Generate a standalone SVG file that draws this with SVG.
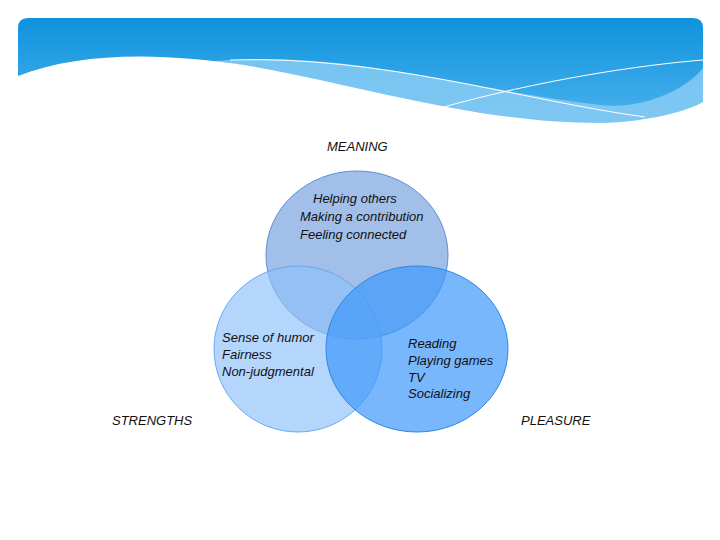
<svg xmlns="http://www.w3.org/2000/svg" width="720" height="540" viewBox="0 0 720 540">
<defs>
<linearGradient id="hg" x1="0" y1="0" x2="0" y2="1"><stop offset="0" stop-color="#0f93dd"/><stop offset="1" stop-color="#4db3ee"/></linearGradient>
<clipPath id="hc"><path d="M18,28 Q18,18 28,18 H693 Q703,18 703,28 V125 H18 Z"/></clipPath>
<style>text{font-family:"Liberation Sans",Arial,sans-serif;font-size:13px;font-style:italic;fill:#111}</style>
</defs>
<g id="header" clip-path="url(#hc)">
<rect x="18" y="18" width="685" height="110" fill="url(#hg)"/>
<path d="M215,61 C350,50 470,90 600,105 C650,110 690,85 703,68 V130 H215 Z" fill="#8ccdf4" opacity="0.8"/>
<path d="M440,108 C540,80 640,65 703,60" fill="none" stroke="#fff" stroke-width="1"/>
<path d="M230,60 C380,55 520,100 645,117" fill="none" stroke="#fff" stroke-width="1"/>
<path d="M18,76 C80,52 160,52 250,66 C380,90 480,123 600,123 C650,122 690,110 703,102 V140 H18 Z" fill="#fff"/>
</g>
<g id="meaning"><ellipse cx="357" cy="255" rx="91" ry="84" fill="#7ba4e0" fill-opacity="0.7" stroke="#5b8fd6"/></g>
<g id="strengths"><ellipse cx="298" cy="349" rx="84" ry="83" fill="#8dc0fa" fill-opacity="0.65" stroke="#6aa8ef"/></g>
<g id="pleasure"><ellipse cx="417" cy="349" rx="91" ry="83" fill="#3f98fa" fill-opacity="0.7" stroke="#2f86e6"/></g>
<g id="labels">
<text x="327" y="151">MEANING</text>
<text x="313" y="203">Helping others</text>
<text x="300" y="221">Making a contribution</text>
<text x="300" y="239">Feeling connected</text>
<text x="222" y="342">Sense of humor</text>
<text x="222" y="359">Fairness</text>
<text x="222" y="376">Non-judgmental</text>
<text x="408" y="348">Reading</text>
<text x="408" y="365">Playing games</text>
<text x="408" y="382">TV</text>
<text x="408" y="398">Socializing</text>
<text x="112" y="425">STRENGTHS</text>
<text x="521" y="425">PLEASURE</text>
</g>
<g id="connectors"/>
</svg>
